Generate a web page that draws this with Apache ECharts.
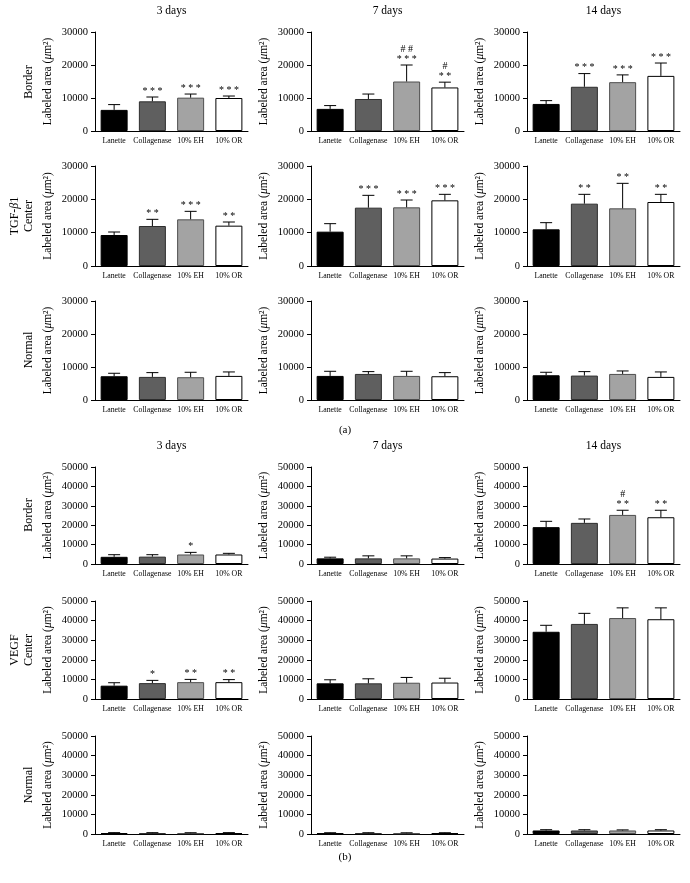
<!DOCTYPE html>
<html><head><meta charset="utf-8">
<script src="https://cdn.jsdelivr.net/npm/echarts@6/dist/echarts.min.js"></script>
<style>html,body{margin:0;padding:0;background:#fff}#c{width:690px;height:883px}</style>
</head><body><div id="c"></div>
<script>
const categories = ['Lanette', 'Collagenase', '10% EH', '10% OR'];
const dayTitles = ['3 days', '7 days', '14 days'];
const tgfTicks = [0, 10000, 20000, 30000];
const vegfTicks = [0, 10000, 20000, 30000, 40000, 50000];

// values per day (3, 7, 14 days), each [Lanette, Collagenase, 10% EH, 10% OR]
const tgfBorderMean = [[6400, 9000, 10100, 10000], [6700, 9700, 15000, 13200], [8200, 13400, 14800, 16700]];
const tgfBorderTop  = [[8000, 10300, 11200, 10600], [7700, 11200, 20000, 14800], [9200, 17400, 17000, 20600]];
const tgfBorderSig  = [['', '***', '***', '***'], ['', '', '##\n***', '#\n**'], ['', '***', '***', '***']];

const tgfCenterMean = [[9300, 12000, 14000, 12100], [10300, 17500, 17600, 19700], [11000, 18700, 17300, 19200]];
const tgfCenterTop  = [[10200, 14000, 16400, 13200], [12700, 21200, 19800, 21500], [13000, 21500, 24800, 21500]];
const tgfCenterSig  = [['', '**', '***', '**'], ['', '***', '***', '***'], ['', '**', '**', '**']];

const tgfNormalMean = [[7200, 7000, 6900, 7300], [7300, 7900, 7300, 7200], [7500, 7400, 7900, 7000]];
const tgfNormalTop  = [[8100, 8300, 8400, 8500], [8700, 8600, 8700, 8300], [8400, 8600, 8800, 8500]];

const vegfBorderMean = [[3700, 3800, 4900, 4900], [2900, 2900, 2900, 2800], [19000, 21200, 25300, 24100]];
const vegfBorderTop  = [[4800, 4800, 6000, 5500], [3500, 4200, 4200, 3300], [22000, 23200, 27700, 27700]];
const vegfBorderSig  = [['', '', '*', ''], ['', '', '', ''], ['', '', '#\n**', '**']];

const vegfCenterMean = [[6800, 8100, 8600, 8600], [8000, 8000, 8300, 8400], [34300, 38300, 41300, 40700]];
const vegfCenterTop  = [[8300, 9500, 10000, 9900], [9800, 10300, 11000, 10600], [37600, 43700, 46500, 46500]];
const vegfCenterSig  = [['', '*', '**', '**'], ['', '', '', ''], ['', '', '', '']];

const vegfNormalMean = [[450, 420, 400, 430], [380, 400, 380, 400], [1800, 1800, 1800, 1800]];
const vegfNormalTop  = [[700, 680, 650, 700], [650, 650, 620, 650], [2200, 2200, 2100, 2200]];

const barColors = ['#000000', '#5f5f5f', '#a3a3a3', '#ffffff'];
const barBorders = ['#000000', '#2e2e2e', '#4e4e4e', '#000000'];

const FONT = 'Liberation Serif';
const rows = [
  {mean: tgfBorderMean, top: tgfBorderTop, sig: tgfBorderSig, ticks: tgfTicks, y: 32, h: 99},
  {mean: tgfCenterMean, top: tgfCenterTop, sig: tgfCenterSig, ticks: tgfTicks, y: 166, h: 100},
  {mean: tgfNormalMean, top: tgfNormalTop, sig: null, ticks: tgfTicks, y: 301, h: 99},
  {mean: vegfBorderMean, top: vegfBorderTop, sig: vegfBorderSig, ticks: vegfTicks, y: 467, h: 97},
  {mean: vegfCenterMean, top: vegfCenterTop, sig: vegfCenterSig, ticks: vegfTicks, y: 601, h: 98},
  {mean: vegfNormalMean, top: vegfNormalTop, sig: null, ticks: vegfTicks, y: 736, h: 98}
];
const colLeft = [95, 311, 527];
const gridW = 153;

const grid = [], xAxis = [], yAxis = [], series = [];
let gi = 0;
rows.forEach(function (r) {
  for (let c = 0; c < 3; c++) {
    grid.push({left: colLeft[c], top: r.y, width: gridW, height: r.h});
    xAxis.push({
      type: 'category', gridIndex: gi, data: categories,
      axisLine: {lineStyle: {color: '#000', width: 1}},
      axisTick: {show: false},
      axisLabel: {fontFamily: FONT, fontSize: 7.8, color: '#000', margin: 6, interval: 0}
    });
    const tmax = r.ticks[r.ticks.length - 1];
    yAxis.push({
      type: 'value', gridIndex: gi, min: 0, max: tmax, interval: r.ticks[1] - r.ticks[0],
      axisLine: {show: true, lineStyle: {color: '#000', width: 1}},
      axisTick: {show: true, length: 4, lineStyle: {color: '#000'}},
      splitLine: {show: false},
      axisLabel: {fontFamily: FONT, fontSize: 10.5, color: '#000', margin: 7,
        formatter: function (v) { return String(v); }},
      name: '{n|Labeled area (}{i|μ}{n|m²)}',
      nameLocation: 'middle', nameGap: 41,
      nameTextStyle: {rich: {
        n: {fontFamily: FONT, fontSize: 11.5, color: '#000'},
        i: {fontFamily: FONT, fontSize: 11.5, fontStyle: 'italic', color: '#000'}
      }}
    });
    const mean = r.mean[c], top = r.top[c], sig = r.sig ? r.sig[c] : ['', '', '', ''];
    series.push({
      type: 'bar', xAxisIndex: gi, yAxisIndex: gi, barWidth: 27, silent: true,
      data: mean.map(function (v, i) {
        return {value: v, itemStyle: {color: barColors[i], borderColor: barBorders[i], borderWidth: 1}};
      })
    });
    series.push({
      type: 'custom', xAxisIndex: gi, yAxisIndex: gi, silent: true, z: 5,
      encode: {x: 0, y: [1, 2]},
      data: mean.map(function (v, i) { return [i, v, top[i]]; }),
      renderItem: (function (sigArr) {
        return function (params, api) {
          const i = params.dataIndex;
          const p0 = api.coord([api.value(0), api.value(1)]);
          const p1 = api.coord([api.value(0), api.value(2)]);
          const ch = [
            {type: 'line', shape: {x1: p0[0], y1: p0[1], x2: p1[0], y2: p1[1]}, style: {stroke: '#000', lineWidth: 1}},
            {type: 'line', shape: {x1: p1[0] - 6, y1: p1[1], x2: p1[0] + 6, y2: p1[1]}, style: {stroke: '#000', lineWidth: 1}}
          ];
          const s = sigArr[i];
          if (s) {
            const txt = s.split('\n').map(function (l) { return l.split('').join(' '); }).join('\n');
            ch.push({type: 'text', x: p1[0], y: p1[1] - 1,
              style: {text: txt, align: 'center', verticalAlign: 'bottom', fontFamily: FONT, fontSize: 10, lineHeight: 10, fill: '#000'}});
          }
          return {type: 'group', children: ch};
        };
      })(sig)
    });
    gi++;
  }
});

const graphic = [];
function txt(x, y, t, size, rot, rich) {
  const g = {type: 'text', x: x, y: y, rotation: rot || 0,
    style: {text: t, align: 'center', verticalAlign: 'middle', fontFamily: FONT, fontSize: size, fill: '#000'}};
  if (rich) g.style.rich = rich;
  graphic.push(g);
}
const titleY = [11, 446];
titleY.forEach(function (ty) {
  for (let c = 0; c < 3; c++) txt(colLeft[c] + gridW / 2, ty, dayTitles[c], 11.5);
});
const R = Math.PI / 2;
const richG = {n: {fontFamily: FONT, fontSize: 12, color: '#000'}, i: {fontFamily: FONT, fontSize: 12, fontStyle: 'italic', color: '#000'}};
txt(29, 82, 'Border', 12, R);
txt(15, 216, '{n|TGF-}{i|β}{n|1}', 12, R, richG);
txt(29, 216, 'Center', 12, R);
txt(29, 350, 'Normal', 12, R);
txt(29, 515, 'Border', 12, R);
txt(15, 650, 'VEGF', 12, R);
txt(29, 650, 'Center', 12, R);
txt(29, 785, 'Normal', 12, R);
txt(345, 430, '(a)', 11);
txt(345, 857, '(b)', 11);

const chart = echarts.init(document.getElementById('c'), null, {renderer: 'canvas'});
chart.setOption({animation: false, backgroundColor: '#fff', grid: grid, xAxis: xAxis, yAxis: yAxis, series: series, graphic: graphic});
</script></body></html>
